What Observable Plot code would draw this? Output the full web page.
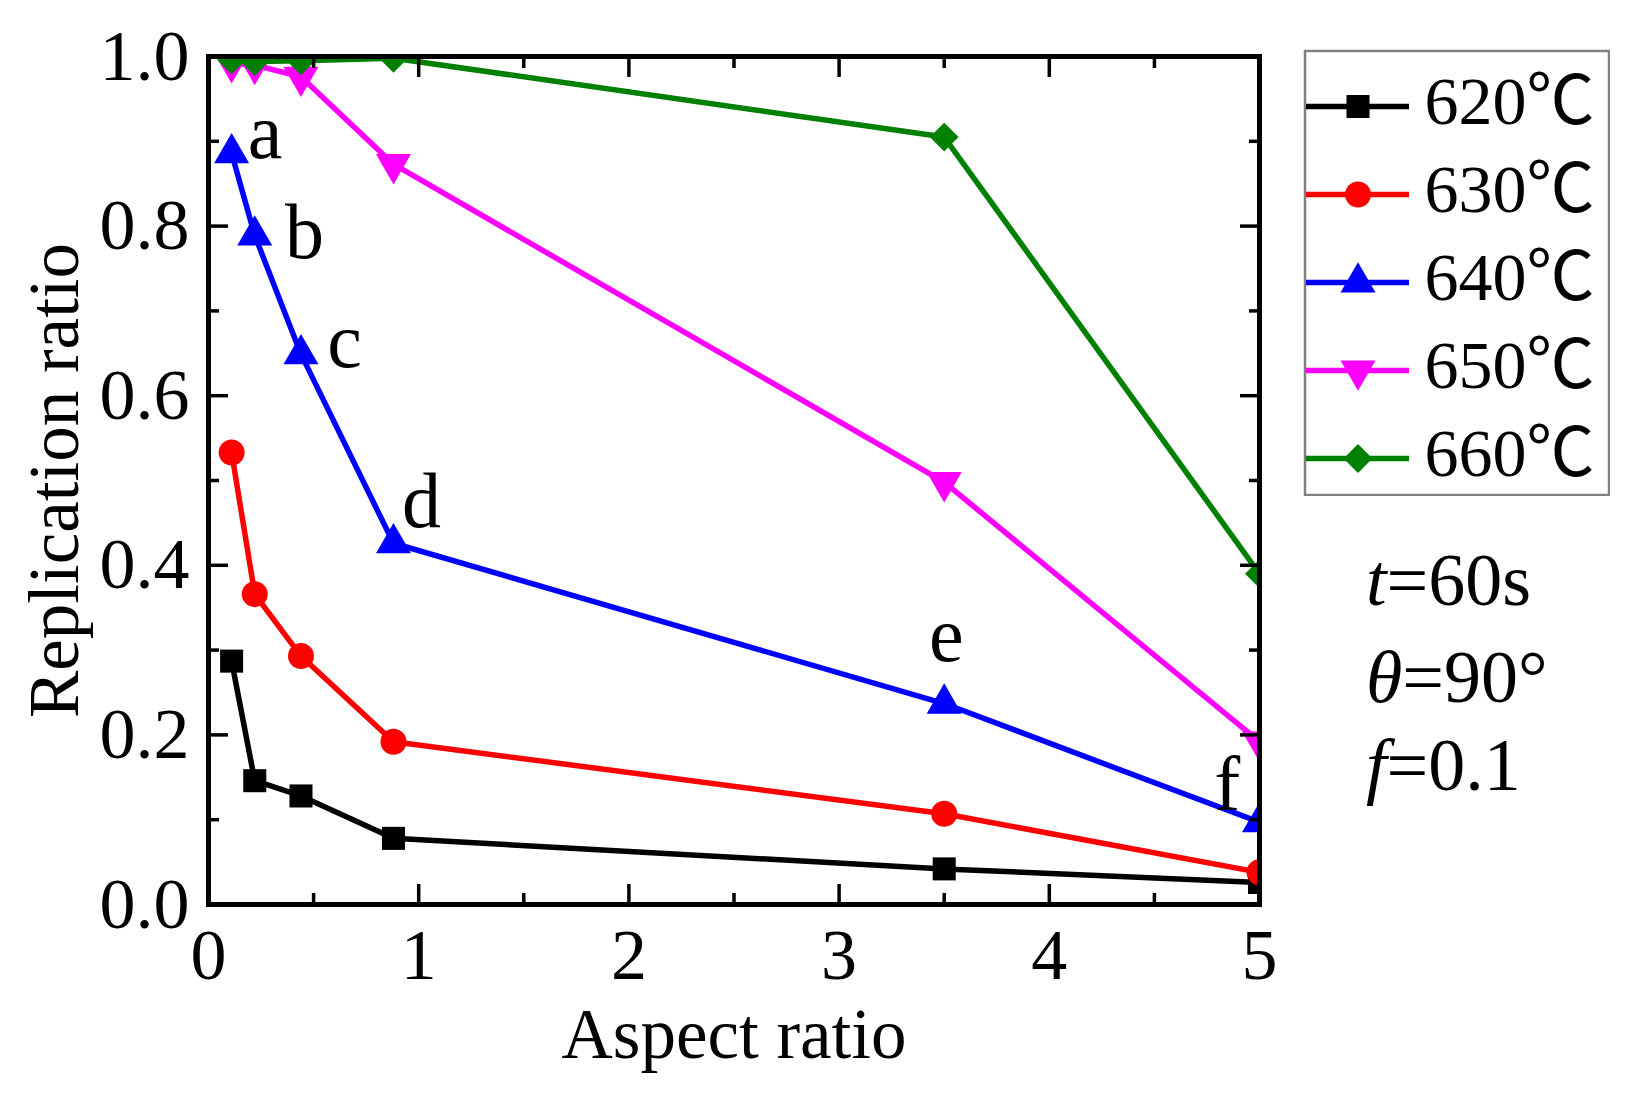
<!DOCTYPE html>
<html><head><meta charset="utf-8">
<script src="https://cdn.jsdelivr.net/npm/d3@7"></script>
<script src="https://cdn.jsdelivr.net/npm/@observablehq/plot@0.6"></script>
<style>
body{margin:0;background:#fff;}
#wrap{position:relative;width:1629px;height:1101px;overflow:hidden;}
#chart{position:absolute;left:0;top:0;}
#legend{position:absolute;left:1303px;top:49px;}
</style></head>
<body><div id="wrap"><div id="chart"></div><div id="legend"></div></div>
<script>
// ---- data ----
const aspectRatio = [0.11, 0.22, 0.44, 0.88, 3.5, 5];
const seriesNames = ["620℃", "630℃", "640℃", "650℃", "660℃"];
const ratio620 = [0.287, 0.146, 0.128, 0.078, 0.042, 0.026];
const ratio630 = [0.533, 0.366, 0.293, 0.192, 0.107, 0.038];
const ratio640 = [0.886, 0.789, 0.649, 0.426, 0.237, 0.097];
const ratio650 = [0.992, 0.990, 0.976, 0.873, 0.498, 0.192];
const ratio660 = [0.996, 0.994, 0.995, 0.998, 0.905, 0.390];
const xTicks = [0, 1, 2, 3, 4, 5];
const xMinorTicks = [0.5, 1.5, 2.5, 3.5, 4.5];
const yTicks = [0, 0.2, 0.4, 0.6, 0.8, 1.0];
const yMinorTicks = [0.1, 0.3, 0.5, 0.7, 0.9];
const annotLabels = ["a", "b", "c", "d", "e", "f"];
const annotX = [0.269, 0.457, 0.647, 1.013, 3.51, 4.847];
const annotY = [0.880, 0.762, 0.634, 0.445, 0.287, 0.111];

const seriesValues = [ratio620, ratio630, ratio640, ratio650, ratio660];
const seriesColors = ["#000000", "#ff0000", "#0000ff", "#ff00ff", "#008000"];
const sqrt3 = Math.sqrt(3);
const triangleDown = {
  draw(context, size) {
    const y = -Math.sqrt(size / (sqrt3 * 3));
    context.moveTo(0, -y * 2);
    context.lineTo(-sqrt3 * y, y);
    context.lineTo(sqrt3 * y, y);
    context.closePath();
  }
};
const seriesSymbols = [d3.symbolSquare, d3.symbolCircle, d3.symbolTriangle, triangleDown, d3.symbolDiamond2];

const rows = seriesNames.flatMap((s, k) => aspectRatio.map((x, i) => ({series: s, x, y: seriesValues[k][i]})));

const FONT = "'Liberation Serif','Noto Sans CJK SC','Times New Roman',serif";
const tickStyle = {tickFormat: () => "", label: null, strokeWidth: 3.5};

const chart = Plot.plot({
  width: 1629, height: 1101,
  marginLeft: 208, marginRight: 370, marginTop: 56, marginBottom: 197,
  x: {domain: [0, 5]},
  y: {domain: [0, 1]},
  style: {fontFamily: FONT, background: "white", color: "black"},
  marks: [
    ...seriesNames.flatMap((s, k) => {
      const d = rows.filter(r => r.series === s);
      return [
        Plot.line(d, {x: "x", y: "y", stroke: seriesColors[k], strokeWidth: 5.5, clip: true}),
        Plot.dot(d, {x: "x", y: "y", fill: seriesColors[k], symbol: seriesSymbols[k], r: 13, clip: true})
      ];
    }),
    Plot.text(annotLabels, {x: (d, i) => annotX[i], y: (d, i) => annotY[i], text: d => d, lineAnchor: "bottom", fontSize: 78, fill: "black"}),
    // inward ticks on four sides
    Plot.axisX(xTicks, {anchor: "bottom", tickSize: -20, ...tickStyle}),
    Plot.axisX(xMinorTicks, {anchor: "bottom", tickSize: -11, ...tickStyle}),
    Plot.axisX(xTicks, {anchor: "top", tickSize: -20, ...tickStyle}),
    Plot.axisX(xMinorTicks, {anchor: "top", tickSize: -11, ...tickStyle}),
    Plot.axisY(yTicks, {anchor: "left", tickSize: -20, ...tickStyle}),
    Plot.axisY(yMinorTicks, {anchor: "left", tickSize: -11, ...tickStyle}),
    Plot.axisY(yTicks, {anchor: "right", tickSize: -20, ...tickStyle}),
    Plot.axisY(yMinorTicks, {anchor: "right", tickSize: -11, ...tickStyle}),
    // tick labels
    Plot.axisX(xTicks, {anchor: "bottom", tickSize: 0, tickPadding: 23, fontSize: 72, label: null, tickFormat: d3.format("d")}),
    Plot.axisY(yTicks, {anchor: "left", tickSize: 0, tickPadding: 19, fontSize: 72, label: null, tickFormat: d3.format(".1f")}),
    Plot.frame({stroke: "black", strokeWidth: 5}),
    Plot.text(["Aspect ratio"], {text: d => d, frameAnchor: "bottom", textAnchor: "middle", lineAnchor: "bottom", dy: 153, fontSize: 71}),
    Plot.text(["Replication ratio"], {text: d => d, frameAnchor: "left", textAnchor: "middle", rotate: -90, lineAnchor: "bottom", dx: -131, fontSize: 71})
  ]
});
document.getElementById("chart").appendChild(chart);

// parameter annotations to the right of the plot
const params = [
  {it: "t", rest: "=60s", baseline: 605},
  {it: "θ", rest: "=90°", baseline: 702},
  {it: "f", rest: "=0.1", baseline: 790}
];
const svg = d3.select(chart);
params.forEach(p => {
  const t = svg.append("text").attr("x", 1366).attr("y", p.baseline)
    .attr("text-anchor", "start")
    .attr("font-family", FONT).attr("font-size", 74).attr("fill", "black");
  t.append("tspan").attr("font-style", "italic").text(p.it);
  t.append("tspan").text(p.rest);
});

// legend
const legend = Plot.plot({
  width: 307, height: 447, margin: 0,
  x: {domain: [0, 1], range: [3, 106], axis: null},
  y: {type: "point", domain: seriesNames, range: [55, 410], padding: 0, axis: null},
  style: {fontFamily: FONT, background: "white", color: "black"},
  marks: [
    Plot.frame({stroke: "#808080", strokeWidth: 2.5, inset: 1.5}),
    ...seriesNames.flatMap((s, k) => [
      Plot.ruleY([s], {y: d => d, x1: () => 0, x2: () => 1, stroke: seriesColors[k], strokeWidth: 5.5}),
      Plot.dot([s], {y: d => d, x: () => 0.5, fill: seriesColors[k], symbol: seriesSymbols[k], r: 13})
    ]),
    Plot.text(seriesNames, {y: d => d, text: d => d, frameAnchor: "left", dx: 121, dy: 17, textAnchor: "start", lineAnchor: "bottom", fontSize: 68})
  ]
});
document.getElementById("legend").appendChild(legend);
</script>
</body></html>
